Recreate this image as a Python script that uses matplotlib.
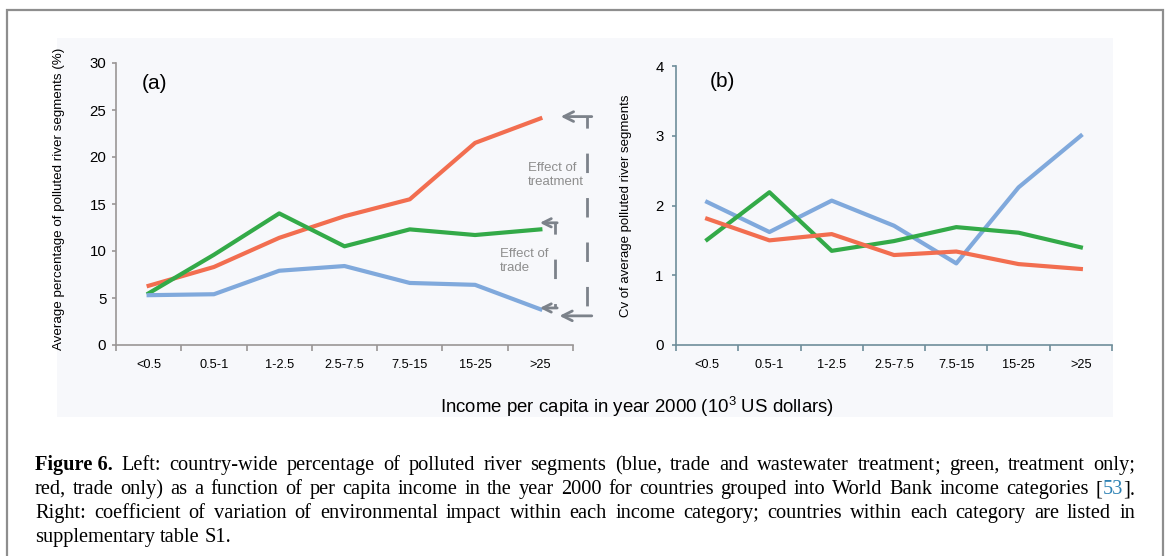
import matplotlib
matplotlib.use("Agg")
import matplotlib.pyplot as plt
import numpy as np
from matplotlib.patches import Rectangle

plt.rcParams["font.family"] = ["Liberation Sans", "DejaVu Sans"]
plt.rcParams["mathtext.fontset"] = "custom"
plt.rcParams["mathtext.rm"] = "Liberation Sans"

W, H = 1167, 556

# income categories (10^3 US dollars)
categories = ["<0.5", "0.5-1", "1-2.5", "2.5-7.5", "7.5-15", "15-25", ">25"]

# (a) average percentage of polluted river segments
pct_trade_only = [6.3, 8.3, 11.4, 13.7, 15.5, 21.5, 24.1]
pct_treatment_only = [5.5, 9.6, 14.0, 10.5, 12.3, 11.7, 12.3]
pct_trade_treatment = [5.3, 5.4, 7.9, 8.4, 6.6, 6.4, 3.8]

# (b) coefficient of variation
cv_trade_only = [1.81, 1.50, 1.59, 1.29, 1.34, 1.16, 1.09]
cv_treatment_only = [1.51, 2.19, 1.35, 1.49, 1.69, 1.61, 1.40]
cv_trade_treatment = [2.05, 1.62, 2.07, 1.71, 1.17, 2.26, 3.00]

red = "#f26e50"
green = "#33aa48"
blue = "#80a9dc"
grey_arrow = "#7c828a"


def px(x, y):
    return x / W, 1 - y / H


fig = plt.figure(figsize=(W / 100, H / 100), dpi=100)

# frame and shaded panel
fig.patches.append(Rectangle(px(7, 560), 1156 / W, 550 / H, transform=fig.transFigure,
                             fill=False, ec="#8e8e8e", lw=1.6, zorder=-2))
fig.patches.append(Rectangle(px(57, 417), 1056 / W, 379 / H, transform=fig.transFigure,
                             fc="#f7f8fb", ec="none", zorder=-1))

xpos = np.arange(len(categories)) + 0.5


def setup(ax, spine_col):
    ax.set_facecolor("none")
    for s in ["top", "right"]:
        ax.spines[s].set_visible(False)
    for s in ["left", "bottom"]:
        ax.spines[s].set_color(spine_col)
        ax.spines[s].set_linewidth(1.2)
    ax.set_xlim(0, 7)
    ax.set_xticks(range(8))
    ax.set_xticklabels([])
    ax.set_xticks(xpos, minor=True)
    ax.set_xticklabels(categories, minor=True, fontsize=9.2)
    ax.tick_params(axis="x", which="major", length=4, color=spine_col, width=1.2)
    ax.tick_params(axis="x", which="minor", length=0, pad=10)
    ax.tick_params(axis="y", length=3, color=spine_col, width=1.2, labelsize=10.8, pad=4)


# ---- (a)
ax1 = fig.add_axes([116 / W, 211 / H, 457 / W, 282 / H])
setup(ax1, "#9a9696")
ax1.plot(xpos, pct_trade_only, color=red, lw=3)
ax1.plot(xpos, pct_treatment_only, color=green, lw=3)
ax1.plot(xpos, pct_trade_treatment, color=blue, lw=3)
ax1.set_ylim(0, 30)
ax1.set_yticks(range(0, 31, 5))
ax1.set_ylabel("Average percentage of polluted river segments (%)", fontsize=9.6)
ax1.yaxis.set_label_coords(-0.112, 0.52)
ax1.text(0.057, 0.929, "(a)", transform=ax1.transAxes, fontsize=15, va="center")

# effect arrows
top_y = pct_trade_only[-1] + 0.2
mid_y = pct_treatment_only[-1] + 0.7
low_y = pct_trade_treatment[-1] + 0.14
bot_y = pct_trade_treatment[-1] - 0.7
big = dict(arrowstyle="->,head_length=0.7,head_width=0.35", color=grey_arrow, lw=2)
small = dict(arrowstyle="->,head_length=0.6,head_width=0.3", color=grey_arrow, lw=2)
ax1.annotate("", xy=(6.77, top_y), xytext=(7.33, top_y), arrowprops=big, annotation_clip=False)
ax1.annotate("", xy=(6.75, bot_y), xytext=(7.33, bot_y), arrowprops=big, annotation_clip=False)
ax1.plot([7.21, 7.21], [top_y, bot_y + 0.4], color=grey_arrow, lw=2,
         ls=(3, (7, 9)), clip_on=False)
ax1.annotate("", xy=(6.45, mid_y), xytext=(6.8, mid_y), arrowprops=small, annotation_clip=False)
ax1.annotate("", xy=(6.45, low_y), xytext=(6.8, low_y), arrowprops=small, annotation_clip=False)
ax1.plot([6.72, 6.72], [mid_y, low_y], color=grey_arrow, lw=2,
         ls=(3, (7, 9)), clip_on=False)
ax1.text(6.31, 18.1, "Effect of\ntreatment", color="#8e8e8e", fontsize=9.5,
         va="center", ha="left", linespacing=1.2)
ax1.text(5.88, 8.9, "Effect of\ntrade", color="#8e8e8e", fontsize=9.5,
         va="center", ha="left", linespacing=1.2)

# ---- (b)
ax2 = fig.add_axes([676 / W, 211 / H, 436 / W, 279 / H])
setup(ax2, "#6f8e9a")
ax2.plot(xpos, cv_trade_treatment, color=blue, lw=3)
ax2.plot(xpos, cv_treatment_only, color=green, lw=3)
ax2.plot(xpos, cv_trade_only, color=red, lw=3)
ax2.set_ylim(0, 4)
ax2.set_yticks(range(0, 5))
ax2.tick_params(axis="y", pad=6)
ax2.set_ylabel("Cv of average polluted river segments", fontsize=9.5)
ax2.yaxis.set_label_coords(-0.101, 0.5)
ax2.text(0.078, 0.943, "(b)", transform=ax2.transAxes, fontsize=15, va="center")

fig.text(*px(637, 407), "Income per capita in year 2000 (10$^3$ US dollars)",
         fontsize=13.4, ha="center", va="center")

# ---- caption (justified lines); tokens glued to the previous one carry a '+' flag
cap_lines = [
    [("Figure 6.", "bold", "k")] + [(w, "normal", "k") for w in
     "Left: country-wide percentage of polluted river segments (blue, trade and wastewater treatment".split()]
    + [(";", "normal", "k+")] + [(w, "normal", "k") for w in "green, treatment only;".split()],
    [(w, "normal", "k") for w in
     "red, trade only) as a function of per capita income in the year 2000 for countries grouped into World Bank income categories".split()]
    + [("[", "normal", "k"), ("53", "normal", "#2f83b5+"), ("].", "normal", "k+")],
    [(w, "normal", "k") for w in
     "Right: coefficient of variation of environmental impact within each income category; countries within each category are listed in".split()],
    [(w, "normal", "k") for w in "supplementary table S1.".split()],
]
renderer = fig.canvas.get_renderer()
x0, x1 = 35, 1135
for i, line in enumerate(cap_lines):
    y = 470 + i * 24
    texts, glued = [], []
    for word, weight, col in line:
        g = col.endswith("+")
        t = fig.text(0, 1 - y / H, word, fontsize=14.7, family="Liberation Serif",
                     weight=weight, color=col.rstrip("+"), va="baseline")
        texts.append(t)
        glued.append(g)
    widths = [t.get_window_extent(renderer).width for t in texts]
    n_gaps = len(line) - 1 - sum(glued)
    space = 5
    if i < 3:
        space = (x1 - x0 - sum(widths)) / n_gaps
    x = x0
    for k, (t, w) in enumerate(zip(texts, widths)):
        if k > 0 and not glued[k]:
            x += space
        t.set_x(x / W)
        x += w

fig.savefig("out.png", dpi=100)
